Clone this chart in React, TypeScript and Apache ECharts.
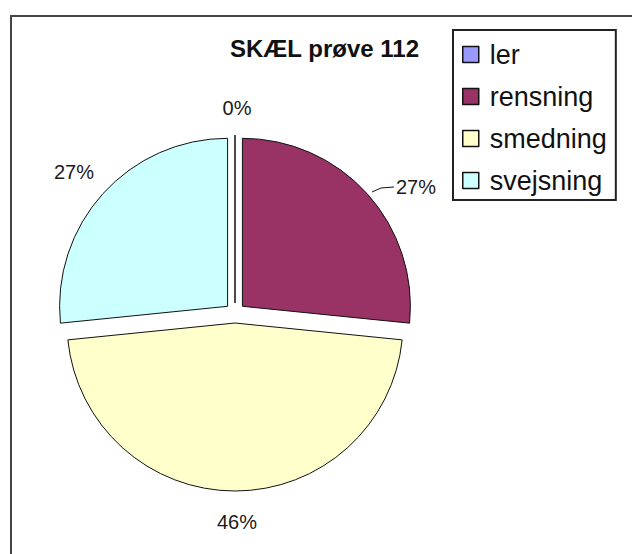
import React, { useEffect, useRef } from "react";
import * as echarts from "echarts";

const categories = ["ler", "rensning", "smedning", "svejsning"];
const values = [0, 26.6, 46.8, 26.6];
const percentLabels = ["0%", "27%", "46%", "27%"];
const colors = ["#9999FF", "#993366", "#FFFFCC", "#CCFFFF"];

const FONT = "'Liberation Sans', Arial, sans-serif";

export default function App() {
  const ref = useRef<HTMLDivElement>(null);
  useEffect(() => {
    if (!ref.current) return;
    const chart = echarts.init(ref.current, undefined, { renderer: "svg" });
    const labelPlacement = [
      { x: 237, y: 108, align: "center" },
      { x: 396, y: 187, align: "left" },
      { x: 237, y: 522, align: "center" },
      { x: 94, y: 172, align: "right" },
    ];
    const labelTexts = percentLabels.map((t, i) => ({
      type: "text",
      silent: true,
      style: {
        text: t,
        x: labelPlacement[i].x,
        y: labelPlacement[i].y,
        align: labelPlacement[i].align,
        verticalAlign: "middle",
        fontFamily: FONT,
        fontSize: 20,
        fill: "#1a1a1a",
      },
    }));
    chart.setOption({
      animation: false,
      backgroundColor: "#ffffff",
      title: {
        text: "SKÆL prøve 112",
        left: 225,
        top: 31,
        textStyle: { fontFamily: FONT, fontSize: 24, fontWeight: "bold", color: "#111" },
      },
      graphic: [
        {
          type: "rect",
          silent: true,
          shape: { x: 11, y: 16, width: 700, height: 700 },
          style: { fill: "none", stroke: "#444", lineWidth: 2 },
        },
        {
          type: "polyline",
          silent: true,
          shape: { points: [[372, 192], [381, 188], [394, 187]] },
          style: { stroke: "#111", lineWidth: 1, fill: "none" },
        },
        ...labelTexts,
      ],
      legend: {
        orient: "vertical",
        left: 453,
        top: 30,
        padding: [11, 9, 6, 9],
        itemGap: 15,
        itemWidth: 16,
        itemHeight: 16,
        icon: "rect",
        borderColor: "#222",
        borderWidth: 2,
        selectedMode: false,
        data: categories,
        itemStyle: { borderColor: "#111", borderWidth: 1.5 },
        textStyle: {
          fontFamily: FONT,
          fontSize: 27,
          color: "#111",
          lineHeight: 27,
          padding: [0, 0, 0, 6],
        },
      },
      series: [
        {
          type: "pie",
          center: [235, 313],
          radius: 168,
          startAngle: 90,
          clockwise: true,
          selectedMode: "multiple",
          selectedOffset: 10,
          avoidLabelOverlap: false,
          label: { show: false },
          labelLine: { show: false },
          data: categories.map((name, i) => ({
            name,
            value: values[i],
            selected: true,
            itemStyle: { color: colors[i] },
          })),
          itemStyle: { borderColor: "#111", borderWidth: 1 },
          select: { itemStyle: { borderColor: "#111", borderWidth: 1 } },
          emphasis: { disabled: true },
        },
      ],
    });
    return () => chart.dispose();
  }, []);
  return (
    <div
      ref={ref}
      style={{ position: "absolute", left: 0, top: 0, width: 632, height: 554 }}
    />
  );
}
